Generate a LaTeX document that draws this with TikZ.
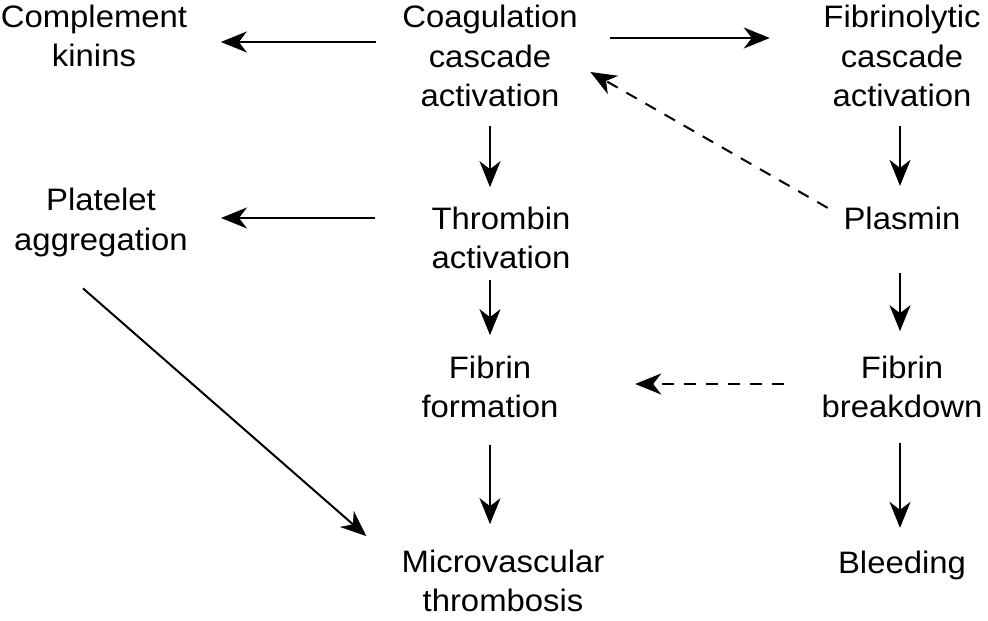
\documentclass[tikz,border=0pt]{standalone}
\usepackage{fontspec}
\setmainfont{Liberation Sans}[FakeStretch=1.06]
\usetikzlibrary{arrows.meta}
\tikzset{x=1pt, y=1pt,
  term/.style={align=center, inner sep=0pt, font=\fontsize{31}{39.5}\selectfont},
  arr/.style={line width=2pt, -{Stealth[length=26pt,width=21pt,inset=8pt]}},
  dasharr/.style={arr, dash pattern=on 12pt off 10pt}}
\begin{document}
\begin{tikzpicture}
\useasboundingbox (0,0) rectangle (988,621);
% top row
\node[term] (compl) at (94,585) {Complement\\kinins};
\node[term] (coag) at (490,565) {Coagulation\\cascade\\activation};
\node[term] (fibl) at (902,565) {Fibrinolytic\\cascade\\activation};
% second row
\node[term] (plat) at (101,398.5) {Platelet\\aggregation};
\node[term] (thromb) at (501,383) {Thrombin\\activation};
\node[term] (plasmin) at (902,403) {Plasmin};
% third row
\node[term] (fform) at (490,234) {Fibrin\\formation};
\node[term] (fbreak) at (902,234) {Fibrin\\breakdown};
% bottom row
\node[term] (micro) at (503,40) {Microvascular\\thrombosis};
\node[term] (bleed) at (902,56) {Bleeding};

% from the coagulation cascade
\draw[arr] ([xshift=-26.5pt,yshift=14pt]coag.west) -- ([xshift=33.5pt,yshift=-6pt]compl.east);
\draw[arr] ([xshift=32.5pt,yshift=18pt]coag.east) -- ([xshift=-53.5pt,yshift=18pt]fibl.west);
\draw[arr, shorten <=19pt, shorten >=19.5pt] (coag.south) -- (coag.south |- thromb.north);
\draw[arr] ([xshift=-56pt,yshift=20pt]thromb.west) -- ([xshift=33pt,yshift=4.5pt]plat.east);
\draw[arr, shorten <=11pt, shorten >=20.5pt] (fform.north |- thromb.south) -- (fform.north);
\draw[arr, shorten <=27pt, shorten >=25.5pt] (fform.south) -- (fform.south |- micro.north);
\draw[arr] ([xshift=-18pt,yshift=-31.5pt]plat.south) -- ([xshift=-35pt,yshift=13.5pt]micro.north west);

% fibrinolytic side
\draw[arr, shorten <=19pt, shorten >=20.5pt] ([xshift=-2pt]fibl.south) -- ([xshift=-2pt]plasmin.north);
\draw[arr, shorten <=43pt, shorten >=24.5pt] ([xshift=-2pt]plasmin.south) -- ([xshift=-2pt]fbreak.north);
\draw[arr, shorten <=25pt, shorten >=22.5pt] ([xshift=-2pt]fbreak.south) -- ([xshift=-2pt]bleed.north);
\draw[dasharr] ([xshift=-15.7pt,yshift=-1.5pt]plasmin.north west) -- ([xshift=12.5pt,yshift=-16pt]coag.east);
\draw[dasharr, shorten <=37pt, shorten >=76.5pt] ([yshift=3pt]fbreak.west) -- ([yshift=3pt]fform.east);
\end{tikzpicture}
\end{document}
